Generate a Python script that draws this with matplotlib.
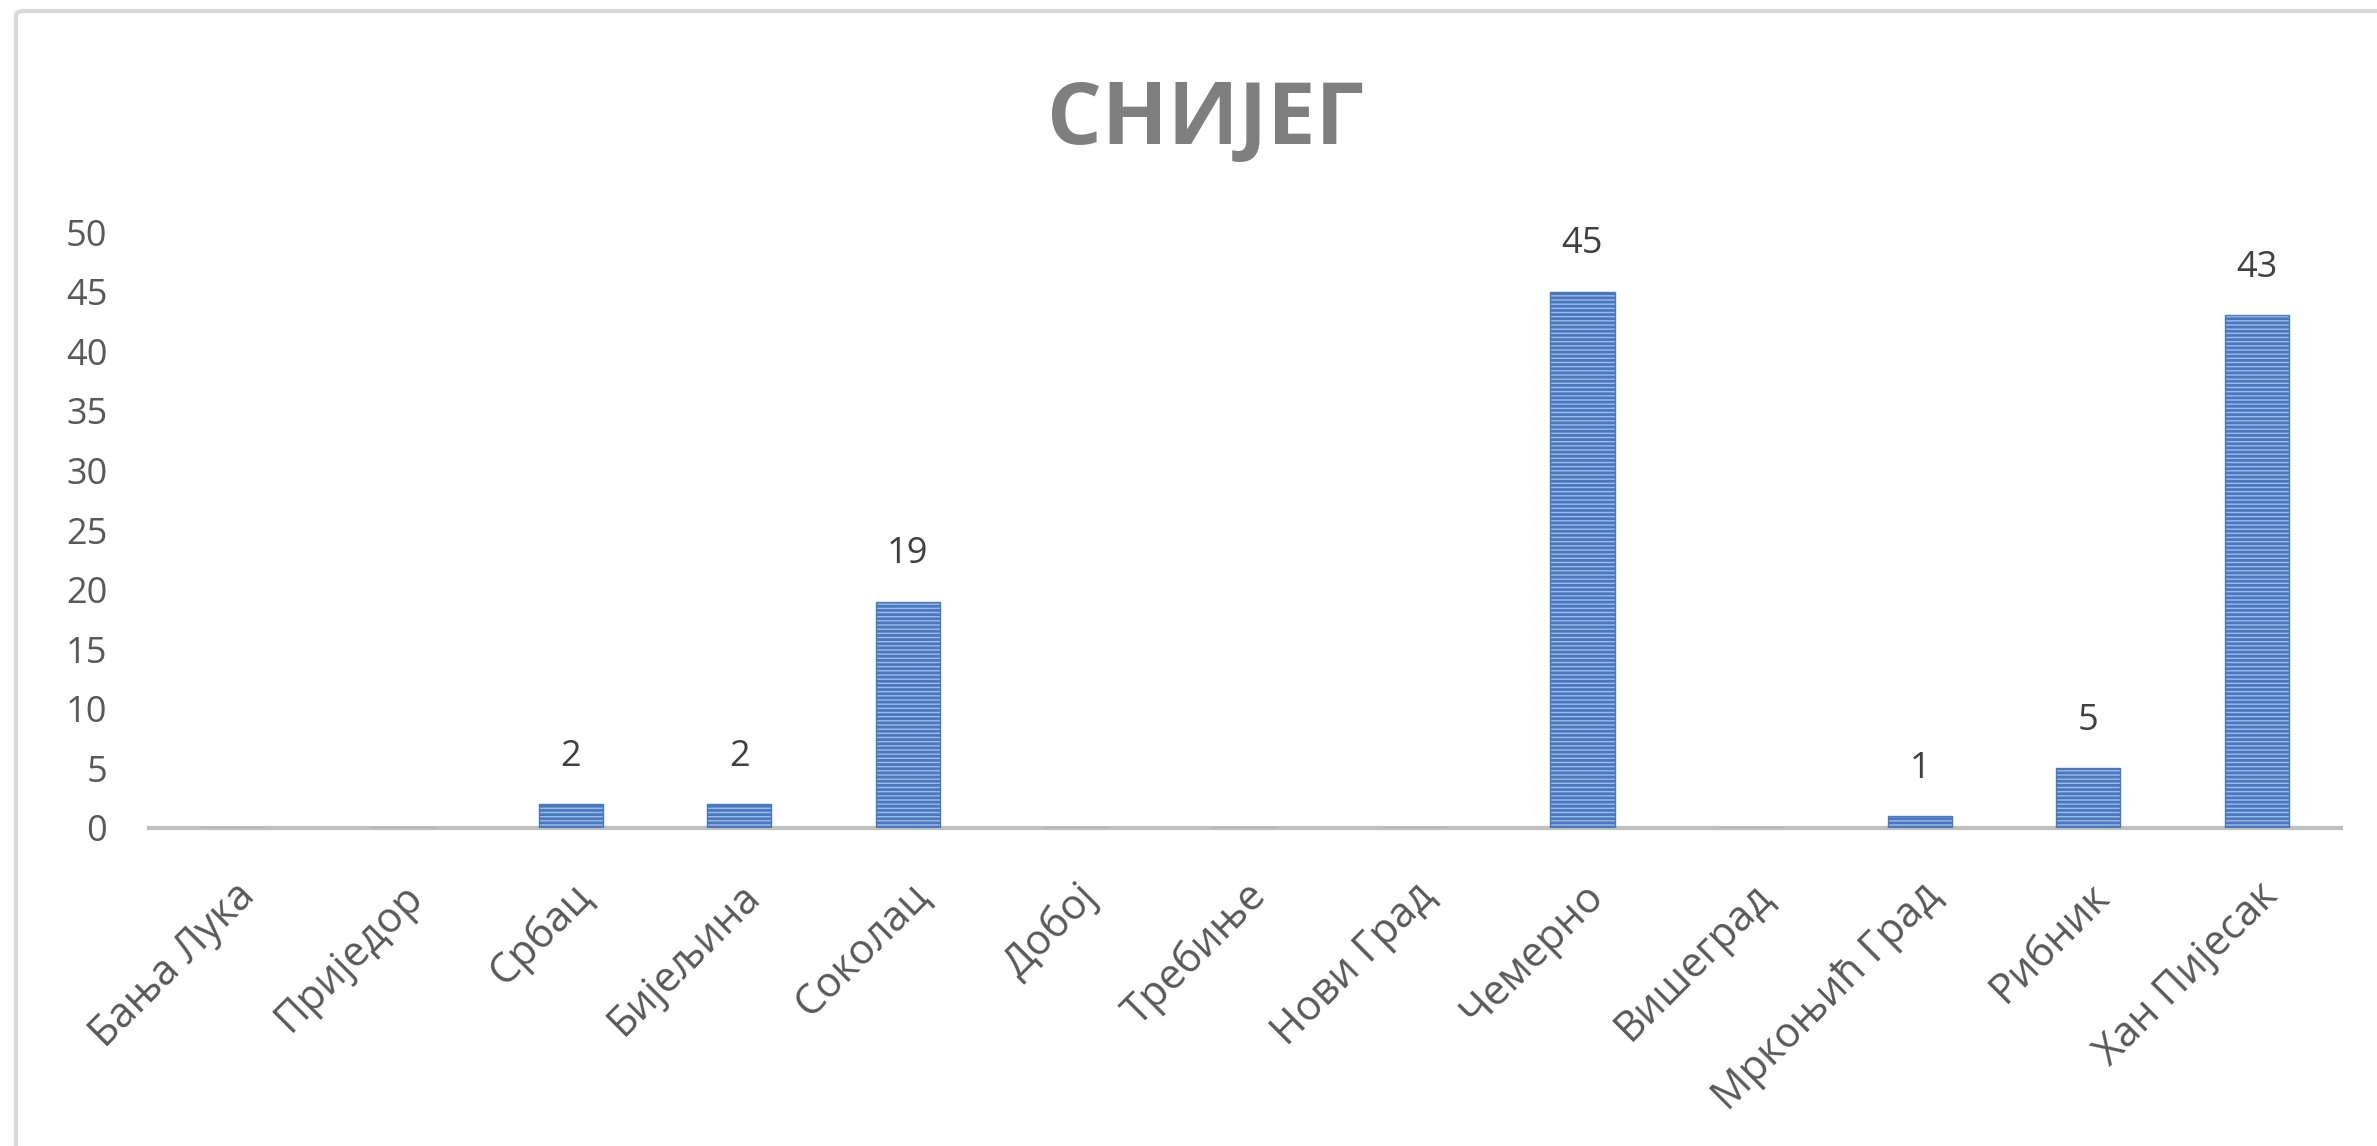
import numpy as np
import matplotlib.pyplot as plt
from matplotlib.patches import FancyBboxPatch

plt.rcParams["font.family"] = ["Open Sans", "DejaVu Sans"]
plt.rcParams["hatch.linewidth"] = 2.0

stations = ["Бања Лука", "Приједор", "Србац", "Бијељина", "Соколац", "Добој",
            "Требиње", "Нови Град", "Чемерно", "Вишеград", "Мркоњић Град",
            "Рибник", "Хан Пијесак"]
snow = [0, 0, 2, 2, 19, 0, 0, 0, 45, 0, 1, 5, 43]
yticks = [0, 5, 10, 15, 20, 25, 30, 35, 40, 45, 50]

text_col = "#595959"

fig = plt.figure(figsize=(23.77, 11.46), dpi=100)
ax = fig.add_axes([0.0627, 0.2775, 0.9223, 0.52])

# chart frame (only the top and left edges are inside the picture)
fig.patches.append(FancyBboxPatch((0.0067, -0.2), 1.2, 1.1904,
                                  boxstyle="round,pad=0,rounding_size=0.004",
                                  transform=fig.transFigure, fill=False,
                                  edgecolor="#D9D9D9", linewidth=3))

x = np.arange(len(stations))
ax.bar(x, snow, width=0.38, color="#9FBCE8", edgecolor="#4A78BE",
       hatch="----", linewidth=1.0, zorder=2)

for xi, v in zip(x, snow):
    if v > 0:
        ax.annotate(str(v), (xi, v), xytext=(0, 21), textcoords="offset points",
                    ha="center", va="bottom", fontsize=26, color="#404040",
                    annotation_clip=False)

ax.set_xlim(-0.5, len(stations) - 0.5)
ax.set_ylim(0, 50)
ax.set_yticks(yticks)
ax.set_xticks(x)
ax.set_xticklabels(stations, rotation=45, ha="right", rotation_mode="anchor")
ax.tick_params(axis="y", length=0, pad=30, labelsize=26, labelcolor=text_col)
ax.tick_params(axis="x", length=0, pad=34, labelsize=30, labelcolor=text_col)

for s in ["top", "right", "left"]:
    ax.spines[s].set_visible(False)
ax.spines["bottom"].set_color("#BFBFBF")
ax.spines["bottom"].set_linewidth(3)
ax.spines["bottom"].set_zorder(1)

fig.text(0.507, 0.894, "СНИЈЕГ", ha="center", va="center", fontsize=62,
         fontweight="bold", color="#7F7F7F")

fig.savefig("out.png", dpi=100, facecolor="white")
